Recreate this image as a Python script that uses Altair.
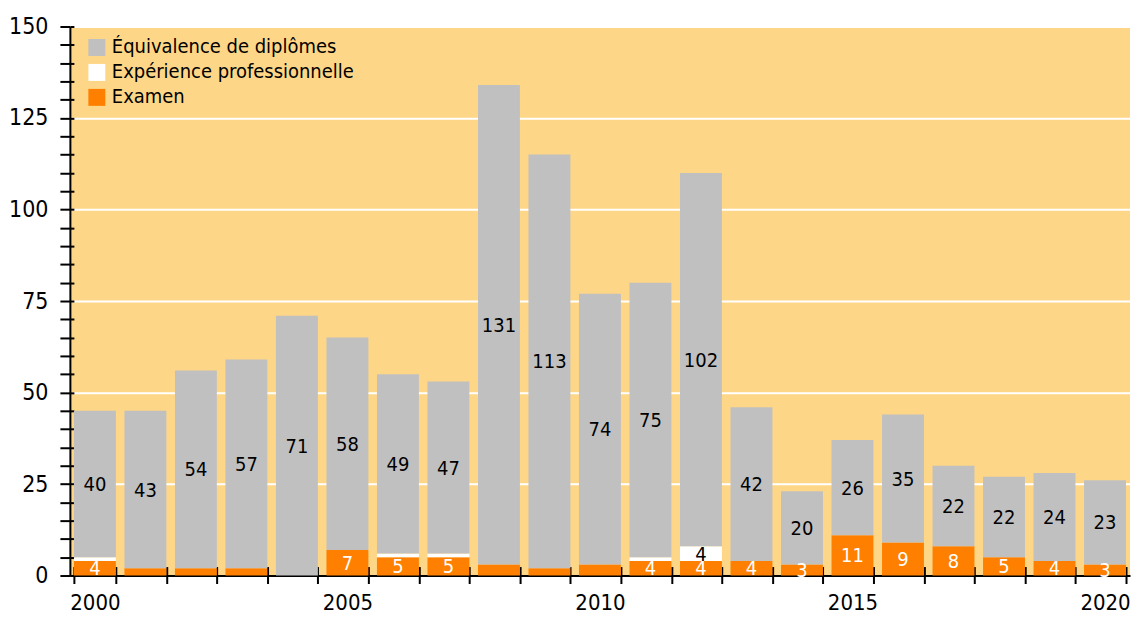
import altair as alt
import pandas as pd

years = list(range(2000, 2021))
categories = ["Équivalence de diplômes", "Expérience professionnelle", "Examen"]
colors = ["#C0C0C0", "#FFFFFF", "#FF8000"]

equivalence = [40, 43, 54, 57, 71, 58, 49, 47, 131, 113, 74, 75, 102, 42, 20, 26, 35, 22, 22, 24, 23]
experience = [1, 0, 0, 0, 0, 0, 1, 1, 0, 0, 0, 1, 4, 0, 0, 0, 0, 0, 0, 0, 0]
examen = [4, 2, 2, 2, 0, 7, 5, 5, 3, 2, 3, 4, 4, 4, 3, 11, 9, 8, 5, 4, 3]

equivalence_labels = [str(v) for v in equivalence]
experience_labels = ["", "", "", "", "", "", "", "", "", "", "", "", "4", "", "", "", "", "", "", "", ""]
examen_labels = ["4", "", "", "", "", "7", "5", "5", "", "", "", "4", "4", "4", "3", "11", "9", "8", "5", "4", "3"]

y_ticks = list(range(0, 151, 5))
x_label_years = [2000, 2005, 2010, 2015, 2020]

FONT = "DejaVu Sans Condensed, Liberation Sans Narrow, DejaVu Sans, sans-serif"
PLOT_W = 1062
PLOT_H = 550

rows = []
series = [
    (categories[2], examen, examen_labels, 0, "white"),
    (categories[1], experience, experience_labels, 1, "black"),
    (categories[0], equivalence, equivalence_labels, 2, "black"),
]
for cat, vals, labs, order, tcol in series:
    for y, v, l in zip(years, vals, labs):
        rows.append({"year": y, "category": cat, "value": v, "order": order,
                     "label": l, "tcolor": tcol})
df = pd.DataFrame(rows)

x_enc = alt.X("year:O", title=None,
              scale=alt.Scale(paddingInner=0.17, paddingOuter=0.08),
              axis=alt.Axis(tickBand="extent", labelAngle=0,
                            labelExpr="indexof([" + ",".join(str(v) for v in x_label_years) + "], datum.value) >= 0 ? datum.label : ''",
                            domainColor="black", domainWidth=2, tickColor="black",
                            tickWidth=2, tickSize=8, labelPadding=9,
                            labelFontSize=22, labelColor="black", labelFont=FONT))

y_scale = alt.Scale(domain=[0, 150], nice=False)

bars = alt.Chart(df).mark_bar().encode(
    x=x_enc,
    y=alt.Y("sum(value):Q", scale=y_scale, title=None, stack="zero",
            axis=alt.Axis(values=y_ticks,
                          labelExpr="datum.value % 25 === 0 ? datum.label : ''",
                          grid=True, gridColor="white", gridWidth=2,
                          gridOpacity={"condition": {"test": "datum.value % 25 === 0", "value": 1}, "value": 0},
                          domainColor="black", domainWidth=2, tickColor="black",
                          tickWidth=2, tickSize=10, labelPadding=12,
                          labelFontSize=23, labelColor="black", labelFont=FONT)),
    color=alt.Color("category:N",
                    scale=alt.Scale(domain=categories, range=colors),
                    legend=alt.Legend(title=None, orient="none", legendX=17, legendY=11,
                                      symbolType="square", symbolSize=289,
                                      symbolStrokeWidth=0, labelFontSize=20,
                                      labelFont=FONT, labelColor="black", labelLimit=500,
                                      labelOffset=5, rowPadding=5, padding=0)),
    order=alt.Order("order:Q", sort="ascending"),
)

texts = alt.Chart(df).transform_stack(
    stack="value", as_=["v0", "v1"], groupby=["year"],
    sort=[alt.SortField("order", order="ascending")]
).transform_calculate(
    mid="(datum.v0 + datum.v1) / 2"
).transform_filter(
    "datum.label != ''"
).mark_text(fontSize=20, font=FONT, baseline="middle", align="center", dy=1).encode(
    x=alt.X("year:O", title=None,
            axis=alt.Axis(orient="top", offset=-PLOT_H, labels=False,
                          domain=False, grid=False, tickBand="extent",
                          tickColor="black", tickWidth=2, tickSize=9)),
    y=alt.Y("mid:Q", scale=y_scale, title=None,
            axis=alt.Axis(orient="right", offset=-PLOT_W, values=y_ticks, labels=False,
                          domain=False, grid=False, tickColor="black",
                          tickWidth=2, tickSize=4)),
    text="label:N",
    color=alt.Color("tcolor:N", scale=None),
)

chart = alt.layer(bars, texts).resolve_axis(x="independent", y="independent").properties(
    width=PLOT_W, height=PLOT_H,
    autosize=alt.AutoSizeParams(type="none"),
    padding={"left": 62, "top": 18, "right": 3, "bottom": 40},
).configure_view(fill="#FED687", stroke=None)

chart.save("out.html", embed_options={"renderer": "svg", "actions": False})
